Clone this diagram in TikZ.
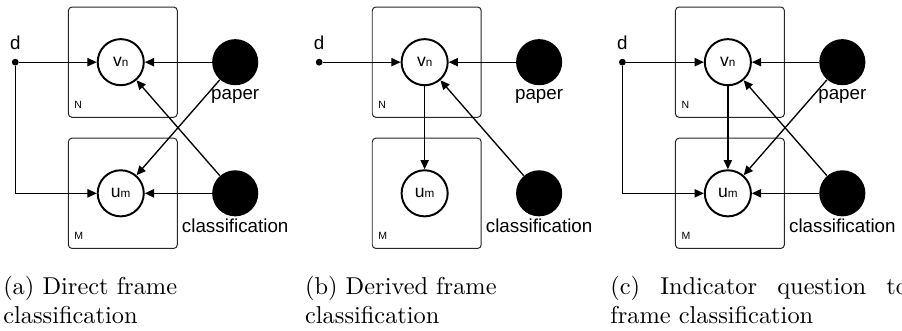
\documentclass[tikz,border=0pt]{standalone}
\usepackage{fontspec}
\usepackage{tikz}
\usetikzlibrary{arrows.meta,positioning}
\newfontfamily\diagfont{Liberation Sans}
\newcommand{\idx}[2]{#1{\fontsize{4.8}{5}\selectfont #2}}
\hyphenpenalty=10000
\exhyphenpenalty=10000

\begin{document}
\begin{tikzpicture}[>={Triangle[length=3.8pt,width=3.4pt]},
  var/.style={circle, draw=black, line width=0.8pt, fill=white, inner sep=0pt, minimum size=18.9pt, font=\diagfont\fontsize{7.2}{8}\selectfont},
  obs/.style={circle, fill=black, inner sep=0pt, minimum size=18.9pt},
  plate/.style={rectangle, draw=black!85, line width=0.4pt, rounded corners=1.5pt, minimum width=1.57cm, minimum height=1.59cm},
  pl/.style={anchor=south west, inner xsep=2.5pt, inner ysep=3.6pt, font=\diagfont\fontsize{4.3}{5}\selectfont},
  txt/.style={inner sep=0pt, font=\diagfont\fontsize{7.7}{9}\selectfont},
  dt/.style={circle, fill=black, inner sep=0pt, minimum size=2.8pt},
  ed/.style={->, line width=0.55pt},
  capt/.style={anchor=north west, inner sep=0pt, text width=4.29cm}]
\useasboundingbox (0,0) rectangle (13,4.756);
% (a) direct
\begin{scope}
  \node[plate] (pn) at (1.77,3.86) {};
  \node[plate] (pm) at (1.77,1.97) {};
  \node[pl] (ln) at (pn.south west) {N};
  \node[pl] (lm) at (pm.south west) {M};
  \node[var] (v) at (1.74,3.86) {\idx{v}{n}};
  \node[var] (u) at (1.74,1.97) {\idx{u}{m}};
  \node[dt] (d) at (0.22,3.86) {};
  \node[txt, above=3.3pt of d] (dl) {d};
  \node[obs] (p) at (3.39,3.86) {};
  \node[obs] (c) at (3.39,1.97) {};
  \node[txt, below=1.2pt of p] (pt) {paper};
  \node[txt, below=0.8pt of c] (ct) {classification};
  \draw[ed] (d) -- (v);
  \draw[ed] (d) |- (u);
  \draw[ed] (p) -- (v);
  \draw[ed] (c) -- (u);
  \draw[ed] (p) -- (u);
  \draw[ed] (c) -- (v);
  \node[capt, align=left] (ca) at (0.04,0.78) {(a) Direct frame classification};
\end{scope}
% (b) derived
\begin{scope}[xshift=4.38cm]
  \node[plate] (pn2) at (1.77,3.86) {};
  \node[plate] (pm2) at (1.77,1.97) {};
  \node[pl] (ln2) at (pn2.south west) {N};
  \node[pl] (lm2) at (pm2.south west) {M};
  \node[var] (v2) at (1.74,3.86) {\idx{v}{n}};
  \node[var] (u2) at (1.74,1.97) {\idx{u}{m}};
  \node[dt] (d2) at (0.22,3.86) {};
  \node[txt, above=3.3pt of d2] (dl2) {d};
  \node[obs] (p2) at (3.39,3.86) {};
  \node[obs] (c2) at (3.39,1.97) {};
  \node[txt, below=1.2pt of p2] (pt2) {paper};
  \node[txt, below=0.8pt of c2] (ct2) {classification};
  \draw[ed] (d2) -- (v2);
  \draw[ed] (p2) -- (v2);
  \draw[ed] (c2) -- (v2);
  \draw[ed] (v2) -- (u2);
  \node[capt, align=left] (cb) at (0.01,0.78) {(b) Derived frame classification};
\end{scope}
% (c) indicator question
\begin{scope}[xshift=8.75cm]
  \node[plate] (pn3) at (1.77,3.86) {};
  \node[plate] (pm3) at (1.77,1.97) {};
  \node[pl] (ln3) at (pn3.south west) {N};
  \node[pl] (lm3) at (pm3.south west) {M};
  \node[var] (v3) at (1.74,3.86) {\idx{v}{n}};
  \node[var] (u3) at (1.74,1.97) {\idx{u}{m}};
  \node[dt] (d3) at (0.22,3.86) {};
  \node[txt, above=3.3pt of d3] (dl3) {d};
  \node[obs] (p3) at (3.39,3.86) {};
  \node[obs] (c3) at (3.39,1.97) {};
  \node[txt, below=1.2pt of p3] (pt3) {paper};
  \node[txt, below=0.8pt of c3] (ct3) {classification};
  \draw[ed] (d3) -- (v3);
  \draw[ed] (d3) |- (u3);
  \draw[ed] (p3) -- (v3);
  \draw[ed] (c3) -- (u3);
  \draw[ed] (p3) -- (u3);
  \draw[ed] (c3) -- (v3);
  \draw[ed] (v3) -- (u3);
  \node[capt, align=justify] (cc) at (0.04,0.78) {(c) Indicator question to frame classification};
\end{scope}
\end{tikzpicture}
\end{document}
